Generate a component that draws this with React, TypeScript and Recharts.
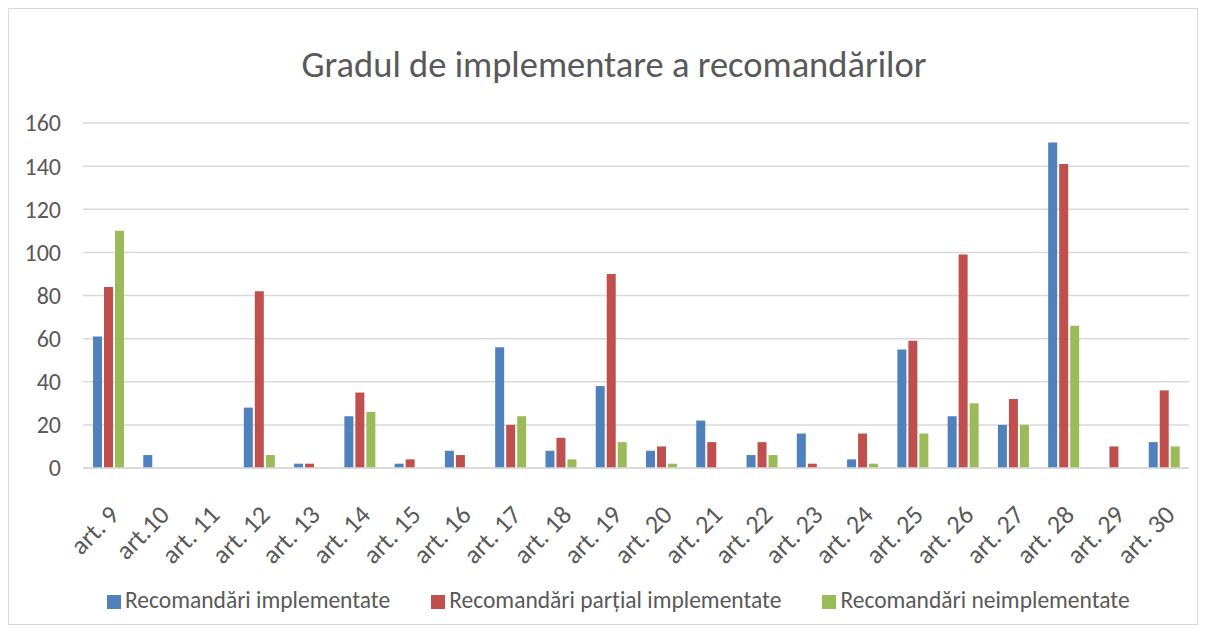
import { BarChart, Bar, XAxis, YAxis, CartesianGrid, Legend } from 'recharts';

// valori
const articole = [
  'art. 9', 'art.10', 'art. 11', 'art. 12', 'art. 13', 'art. 14', 'art. 15', 'art. 16',
  'art. 17', 'art. 18', 'art. 19', 'art. 20', 'art. 21', 'art. 22', 'art. 23', 'art. 24',
  'art. 25', 'art. 26', 'art. 27', 'art. 28', 'art. 29', 'art. 30',
];
const implementate = [61, 6, 0, 28, 2, 24, 2, 8, 56, 8, 38, 8, 22, 6, 16, 4, 55, 24, 20, 151, 0, 12];
const partial = [84, 0, 0, 82, 2, 35, 4, 6, 20, 14, 90, 10, 12, 12, 2, 16, 59, 99, 32, 141, 10, 36];
const neimplementate = [110, 0, 0, 6, 0, 26, 0, 0, 24, 4, 12, 2, 0, 6, 0, 2, 16, 30, 20, 66, 0, 10];
const yTicks = [0, 20, 40, 60, 80, 100, 120, 140, 160];

// cheile s1..s3 ca legenda sa pastreze ordinea seriilor
const data = articole.map((name, i) => ({
  name,
  s1: implementate[i],
  s2: partial[i],
  s3: neimplementate[i],
}));

const FONT = "Carlito, Lato, sans-serif";
const GREY = '#595959';

const XTick = ({ x, y, payload }: any) => (
  <g transform={`translate(${x + 6},${y + 40})`}>
    <text transform="rotate(-45)" textAnchor="end" dy="0.35em" fill={GREY} style={{ fontSize: 26, fontFamily: FONT }}>
      {payload.value}
    </text>
  </g>
);

const YTick = ({ x, y, payload }: any) => (
  <text x={x - 20} y={y} dy="0.35em" textAnchor="end" fill={GREY} style={{ fontSize: 24, fontFamily: FONT }}>
    {payload.value}
  </text>
);

export default function App() {
  return (
    <div
      style={{
        position: 'relative',
        width: 1188,
        height: 615,
        border: '1px solid #d9d9d9',
        fontFamily: FONT,
        background: '#fff',
      }}
    >
      <div
        style={{
          position: 'absolute',
          top: 36,
          left: 22,
          width: 1166,
          textAlign: 'center',
          fontSize: 36.5,
          lineHeight: '40px',
          color: GREY,
        }}
      >
        Gradul de implementare a recomandărilor
      </div>
      <BarChart
        width={1188}
        height={615}
        data={data}
        margin={{ top: 114, right: 8, left: 24, bottom: 10 }}
        barSize={9}
        barGap={2}
      >
        <CartesianGrid vertical={false} stroke="#d9d9d9" strokeWidth={1.5} />
        <XAxis
          dataKey="name"
          interval={0}
          height={118}
          axisLine={{ stroke: '#d9d9d9', strokeWidth: 1.5 }}
          tickLine={false}
          tickSize={0}
          tick={<XTick />}
        />
        <YAxis
          domain={[0, 160]}
          ticks={yTicks}
          width={50}
          axisLine={false}
          tickLine={false}
          tickSize={0}
          tick={<YTick />}
        />
        <Legend
          verticalAlign="bottom"
          align="left"
          itemSorter="dataKey"
          iconType="square"
          iconSize={14}
          wrapperStyle={{ fontSize: 23.5, fontFamily: FONT, left: 98, width: 1080 }}
          formatter={(value: string) => <span style={{ color: GREY, marginRight: 31 }}>{value}</span>}
        />
        <Bar dataKey="s1" name="Recomandări implementate" fill="#4f81bd" isAnimationActive={false} />
        <Bar dataKey="s2" name="Recomandări parțial implementate" fill="#c0504d" isAnimationActive={false} />
        <Bar dataKey="s3" name="Recomandări neimplementate" fill="#9bbb59" isAnimationActive={false} />
      </BarChart>
    </div>
  );
}
